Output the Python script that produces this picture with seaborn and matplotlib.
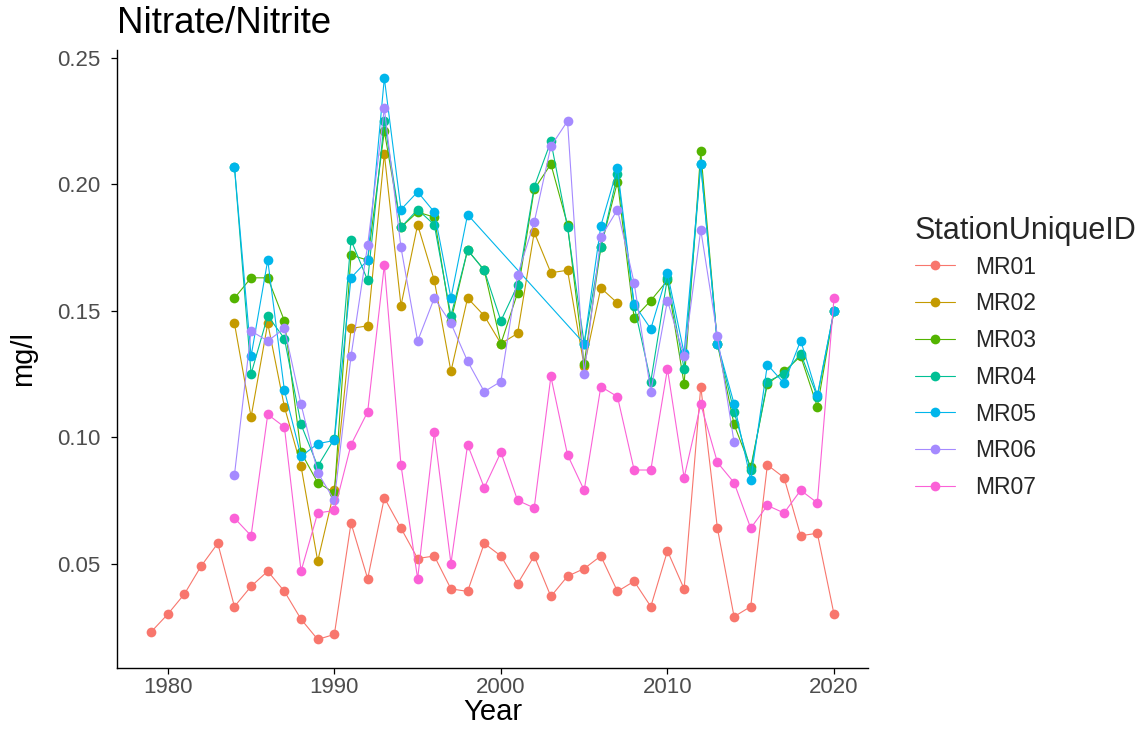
import numpy as np
import pandas as pd
import matplotlib
matplotlib.use("Agg")
import matplotlib.pyplot as plt
import seaborn as sns

stations = ["MR01", "MR02", "MR03", "MR04", "MR05", "MR06", "MR07"]
colors = ["#F8766D", "#C49A00", "#53B400", "#00C094", "#00B6EB", "#A58AFF", "#FB61D7"]

years_mr01 = list(range(1979, 2021))
mr01 = [0.023, 0.030, 0.038, 0.049, 0.058, 0.033, 0.041, 0.047, 0.039, 0.028,
        0.020, 0.022, 0.066, 0.044, 0.076, 0.064, 0.052, 0.053, 0.040, 0.039,
        0.058, 0.053, 0.042, 0.053, 0.037, 0.045, 0.048, 0.053, 0.039, 0.043,
        0.033, 0.055, 0.040, 0.120, 0.064, 0.029, 0.033, 0.089, 0.084, 0.061,
        0.062, 0.030]

years_mr02 = list(range(1984, 2008))
mr02 = [0.145, 0.108, 0.145, 0.112, 0.0885, 0.051, 0.079, 0.143, 0.144, 0.212,
        0.152, 0.184, 0.162, 0.126, 0.155, 0.148, 0.137, 0.141, 0.181, 0.165,
        0.166, 0.128, 0.159, 0.153]

years_mr03 = list(range(1984, 2021))
mr03 = [0.155, 0.163, 0.163, 0.146, 0.094, 0.082, 0.078, 0.172, 0.170, 0.221,
        0.183, 0.189, 0.187, 0.146, 0.174, 0.166, 0.137, 0.157, 0.198, 0.208,
        0.184, 0.129, 0.175, 0.201, 0.147, 0.154, 0.162, 0.121, 0.213, 0.137,
        0.105, 0.088, 0.121, 0.126, 0.132, 0.112, 0.150]

years_mr04 = list(range(1984, 2021))
mr04 = [0.207, 0.125, 0.148, 0.139, 0.105, 0.0885, 0.0994, 0.178, 0.162, 0.225,
        0.183, 0.190, 0.184, 0.148, 0.174, 0.166, 0.146, 0.160, 0.199, 0.217,
        0.183, 0.137, 0.175, 0.204, 0.152, 0.122, 0.163, 0.127, 0.208, 0.137,
        0.110, 0.087, 0.122, 0.125, 0.133, 0.116, 0.150]

years_mr05 = list(range(1984, 1999)) + list(range(2005, 2021))
mr05 = [0.207, 0.132, 0.170, 0.1185, 0.0924, 0.0974, 0.0987, 0.163, 0.170, 0.242,
        0.190, 0.197, 0.189, 0.155, 0.188,
        0.137, 0.1836, 0.2063, 0.1526, 0.1428, 0.1648, 0.1332, 0.2079, 0.137,
        0.1132, 0.083, 0.1287, 0.1213, 0.1382, 0.1165, 0.150]

years_mr06 = list(range(1984, 2015))
mr06 = [0.085, 0.142, 0.138, 0.143, 0.113, 0.086, 0.075, 0.132, 0.176, 0.230,
        0.175, 0.138, 0.155, 0.145, 0.130, 0.118, 0.122, 0.164, 0.185, 0.215,
        0.225, 0.125, 0.179, 0.190, 0.161, 0.118, 0.154, 0.132, 0.182, 0.140,
        0.098]

years_mr07 = list(range(1984, 2021))
mr07 = [0.068, 0.061, 0.109, 0.104, 0.047, 0.070, 0.071, 0.097, 0.110, 0.168,
        0.089, 0.044, 0.102, 0.050, 0.097, 0.080, 0.094, 0.075, 0.072, 0.124,
        0.093, 0.079, 0.120, 0.116, 0.087, 0.087, 0.127, 0.084, 0.113, 0.090,
        0.082, 0.064, 0.073, 0.070, 0.079, 0.074, 0.155]

all_years = [years_mr01, years_mr02, years_mr03, years_mr04, years_mr05, years_mr06, years_mr07]
all_vals = [mr01, mr02, mr03, mr04, mr05, mr06, mr07]

frames = []
for st, yrs, vals in zip(stations, all_years, all_vals):
    frames.append(pd.DataFrame({"Year": yrs, "mg/l": vals, "StationUniqueID": st}))
df = pd.concat(frames, ignore_index=True)

sns.set_theme(style="ticks")
plt.rcParams["font.family"] = ["Liberation Sans", "DejaVu Sans"]

fig = plt.figure(figsize=(11.45, 7.34), dpi=100)
ax = fig.add_axes([0.1022, 0.0899, 0.656, 0.842])

sns.lineplot(data=df, x="Year", y="mg/l", hue="StationUniqueID",
             hue_order=stations, palette=colors, marker="o", markersize=7,
             markeredgewidth=0, linewidth=0.8, ax=ax, sort=True,
             estimator=None, errorbar=None)

ax.set_xlim(1976.95, 2022.05)
ax.set_ylim(0.0087, 0.2531)
ax.set_xticks([1980, 1990, 2000, 2010, 2020])
ax.set_yticks([0.05, 0.10, 0.15, 0.20, 0.25])
ax.set_yticklabels(["0.05", "0.10", "0.15", "0.20", "0.25"])
ax.tick_params(axis="both", colors="black", labelcolor="#4D4D4D",
               labelsize=16, length=4, width=0.9)
ax.tick_params(axis="x", pad=2.5)
ax.tick_params(axis="y", pad=8)
for s in ["top", "right"]:
    ax.spines[s].set_visible(False)
for s in ["left", "bottom"]:
    ax.spines[s].set_color("black")
    ax.spines[s].set_linewidth(1.0)

ax.set_xlabel("Year", fontsize=21, color="black", labelpad=0)
ax.set_ylabel("mg/l", fontsize=21, color="black", labelpad=14)
ax.set_title("Nitrate/Nitrite", fontsize=26.5, loc="left", color="black", pad=12, x=0.0)

leg = ax.legend(title="StationUniqueID", loc="upper left",
                bbox_to_anchor=(0.799, 0.706), bbox_transform=fig.transFigure,
                frameon=False, fontsize=16.5, title_fontsize=22,
                labelspacing=0.6, handlelength=1.75, handletextpad=0.9,
                borderpad=0, borderaxespad=0)
leg._legend_box.align = "left"
leg._legend_box.sep = 7

fig.savefig("out.png", dpi=100)
